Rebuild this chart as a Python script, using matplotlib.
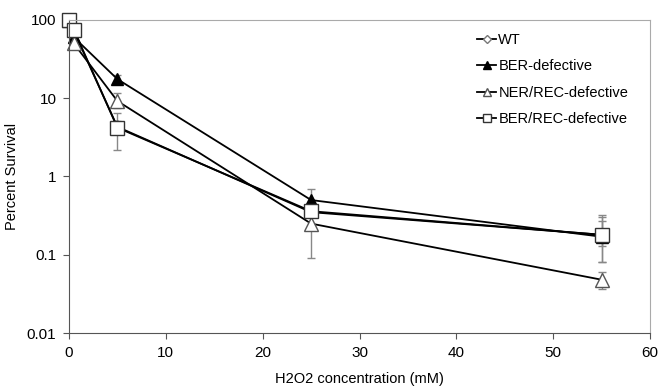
import matplotlib
matplotlib.use("Agg")
import matplotlib.pyplot as plt

plt.rcParams['font.family'] = ['Liberation Sans', 'DejaVu Sans']

# 数据
conc = [0, 0.5, 5, 25, 55]
wt = [100, 72, 4.3, 0.35, 0.18]
ber = [100, 60, 17.5, 0.5, 0.17]
ner_rec = [100, 50, 9.2, 0.25, 0.048]
ber_rec = [100, 75, 4.2, 0.36, 0.18]

# 误差 (下, 上)
wt_err = [[0, 5, 0.5, 0.05, 0.05], [0, 5, 0.8, 0.05, 0.12]]
ber_err = [[0, 5, 2, 0.1, 0.09], [0, 5, 2, 0.2, 0.1]]
ner_rec_err = [[0, 5, 1.7, 0.16, 0.011], [0, 5, 2.4, 0.05, 0.012]]
ber_rec_err = [[0, 5, 2.05, 0.05, 0.1], [0, 5, 2.2, 0.1, 0.14]]

fig = plt.figure(figsize=(6.6, 3.9), dpi=100)
ax = fig.add_axes([0.1045, 0.146, 0.8805, 0.803])

series = [
    ("WT", wt, wt_err, dict(marker='D', markersize=7, mfc='white', mec='#777777')),
    ("BER-defective", ber, ber_err, dict(marker='^', markersize=9, mfc='black', mec='black')),
    ("NER/REC-defective", ner_rec, ner_rec_err, dict(marker='^', markersize=10, mfc='white', mec='#555555')),
    ("BER/REC-defective", ber_rec, ber_rec_err, dict(marker='s', markersize=10, mfc='white', mec='#333333')),
]

handles = []
for label, y, err, style in series:
    eb = ax.errorbar(conc, y, yerr=err, color='black', lw=1.3, ecolor='#888888',
                     elinewidth=1, capsize=3, label=label, **style)
    for art in eb.get_children():
        art.set_clip_on(False)
    handles.append(eb[0])

ax.set_yscale('log')
ax.set_ylim(0.01, 100)
ax.set_xlim(0, 60)
ax.set_xticks(range(0, 61, 10))
ax.set_yticks([0.01, 0.1, 1, 10, 100])
ax.set_yticklabels(['0.01', '0.1', '1', '10', '100'])
ax.minorticks_off()
ax.tick_params(labelsize=11, color='#555555', length=4, direction='out', pad=5)

for s in ['top', 'right']:
    ax.spines[s].set_color('#aaaaaa')
for s in ['left', 'bottom']:
    ax.spines[s].set_color('#555555')

ax.set_xlabel("H2O2 concentration (mM)", fontsize=10.5, labelpad=9)
ax.set_ylabel("Percent Survival", fontsize=10.5, labelpad=6)

ax.legend(handles, [s[0] for s in series], loc='upper left',
          bbox_to_anchor=(0.68, 1.0), frameon=False,
          fontsize=10.5, handlelength=1.3, handletextpad=0.15, labelspacing=0.85,
          markerscale=0.6)

fig.savefig("out.png", dpi=100)
